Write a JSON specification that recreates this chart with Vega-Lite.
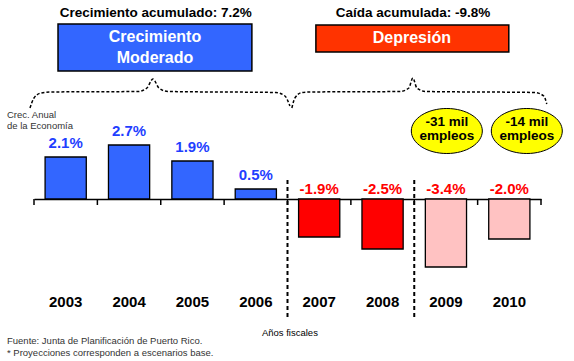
{
  "$schema": "https://vega.github.io/schema/vega-lite/v6.json",
  "width": 507,
  "height": 361,
  "autosize": {"type": "none"},
  "padding": {"left": 34, "right": 33, "top": 0, "bottom": 0},
  "background": "white",
  "config": {"view": {"stroke": null}, "font": "Liberation Sans"},
  "datasets": {
    "bars": [
      {"year": "2003", "value": 2.1, "label": "2.1%", "kind": "Real"},
      {"year": "2004", "value": 2.7, "label": "2.7%", "kind": "Real"},
      {"year": "2005", "value": 1.9, "label": "1.9%", "kind": "Real"},
      {"year": "2006", "value": 0.5, "label": "0.5%", "kind": "Real"},
      {"year": "2007", "value": -1.9, "label": "-1.9%", "kind": "Caída"},
      {"year": "2008", "value": -2.5, "label": "-2.5%", "kind": "Caída"},
      {"year": "2009", "value": -3.4, "label": "-3.4%", "kind": "Proyección"},
      {"year": "2010", "value": -2.0, "label": "-2.0%", "kind": "Proyección"}
    ],
    "ticks": [
      {"b": 0}, {"b": 1}, {"b": 2}, {"b": 3}, {"b": 4}, {"b": 5}, {"b": 6}, {"b": 7}, {"b": 8}
    ],
    "headers": [
      {"text": "Crecimiento acumulado: 7.2%", "x": 1.92, "y": 9.3},
      {"text": "Caída acumulada: -9.8%", "x": 5.98, "y": 9.3}
    ],
    "boxes": [
      {"box": "Crecimiento", "x": 0.379, "x2": 3.438, "y": 8.75, "y2": 6.4},
      {"box": "Depresión", "x": 4.448, "x2": 7.492, "y": 8.7, "y2": 7.35}
    ],
    "boxtext": [
      {"text": "Crecimiento", "x": 1.909, "y": 8.1},
      {"text": "Moderado", "x": 1.909, "y": 7.05},
      {"text": "Depresión", "x": 5.962, "y": 8.05}
    ],
    "braces": [
      {"brace": "L", "x": -0.063, "y": 4.55},
      {"brace": "L", "x": 0.0, "y": 5.05},
      {"brace": "L", "x": 0.11, "y": 5.3},
      {"brace": "L", "x": 0.252, "y": 5.35},
      {"brace": "L", "x": 1.64, "y": 5.375},
      {"brace": "L", "x": 1.782, "y": 5.55},
      {"brace": "L", "x": 1.877, "y": 6.0},
      {"brace": "L", "x": 1.972, "y": 5.55},
      {"brace": "L", "x": 2.114, "y": 5.375},
      {"brace": "L", "x": 3.817, "y": 5.325},
      {"brace": "L", "x": 3.959, "y": 5.15},
      {"brace": "L", "x": 4.038, "y": 4.65},
      {"brace": "R", "x": 4.069, "y": 4.55},
      {"brace": "R", "x": 4.117, "y": 5.05},
      {"brace": "R", "x": 4.227, "y": 5.325},
      {"brace": "R", "x": 4.353, "y": 5.35},
      {"brace": "R", "x": 5.773, "y": 5.375},
      {"brace": "R", "x": 5.915, "y": 5.55},
      {"brace": "R", "x": 5.978, "y": 6.05},
      {"brace": "R", "x": 6.041, "y": 5.55},
      {"brace": "R", "x": 6.183, "y": 5.375},
      {"brace": "R", "x": 7.902, "y": 5.325},
      {"brace": "R", "x": 8.044, "y": 5.15},
      {"brace": "R", "x": 8.091, "y": 4.75}
    ],
    "dividers": [
      {"x": 4, "y": 0.95, "y2": -5.95},
      {"x": 6, "y": 0.95, "y2": -5.95}
    ],
    "ellipses": [
      {"x": 6.514, "y": 3.4, "text": "-31 mil\nempleos"},
      {"x": 7.776, "y": 3.4, "text": "-14 mil\nempleos"}
    ],
    "notes": [
      {"text": "Crec. Anual", "x": -0.426, "y": 4.2},
      {"text": "de la Economía", "x": -0.426, "y": 3.65},
      {"text": "Fuente: Junta de Planificación de Puerto Rico.", "x": -0.426, "y": -7.1},
      {"text": "* Proyecciones corresponden a escenarios base.", "x": -0.426, "y": -7.7}
    ],
    "xtitle": [
      {"text": "Años fiscales", "x": 4.038, "y": -6.7}
    ]
  },
  "resolve": {"scale": {"x": "independent"}},
  "layer": [
    {
      "data": {"name": "bars"},
      "mark": {"type": "bar", "stroke": "black", "strokeWidth": 1.3},
      "encoding": {
        "x": {
          "field": "year", "type": "ordinal",
          "scale": {"domain": ["2003","2004","2005","2006","2007","2008","2009","2010"], "paddingInner": 0.35, "paddingOuter": 0.175},
          "axis": {
            "orient": "bottom", "offset": -162, "title": null,
            "domain": true, "domainColor": "black", "domainWidth": 1.5,
            "ticks": false,
            "labelPadding": 95, "labelFont": "Liberation Sans", "labelFontWeight": "bold",
            "labelFontSize": 15, "labelColor": "black", "labelAngle": 0, "grid": false
          }
        },
        "y": {
          "field": "value", "type": "quantitative",
          "scale": {"domain": [-8.1, 9.95], "nice": false, "zero": false},
          "axis": null
        },
        "fill": {
          "field": "kind", "type": "nominal",
          "scale": {"domain": ["Real", "Caída", "Proyección"], "range": ["#3366FF", "#FF0000", "#FFC2C2"]},
          "legend": null
        }
      }
    },
    {
      "data": {"name": "ticks"},
      "mark": {"type": "rule", "color": "black", "strokeWidth": 1.5},
      "encoding": {
        "x": {"field": "b", "type": "quantitative", "scale": {"domain": [0, 8], "nice": false, "zero": false}, "axis": null},
        "y": {"datum": 0, "type": "quantitative"},
        "y2": {"datum": -0.3}
      }
    },
    {
      "data": {"name": "bars"},
      "transform": [{"filter": "datum.value > 0"}],
      "mark": {"type": "text", "dy": -9, "baseline": "alphabetic", "fontSize": 15, "fontWeight": "bold", "color": "#1F3FFF"},
      "encoding": {
        "x": {"field": "year", "type": "ordinal", "scale": {"domain": ["2003","2004","2005","2006","2007","2008","2009","2010"], "paddingInner": 0.35, "paddingOuter": 0.175}, "axis": null},
        "y": {"field": "value", "type": "quantitative"},
        "text": {"field": "label"}
      }
    },
    {
      "data": {"name": "bars"},
      "transform": [{"filter": "datum.value < 0"}],
      "mark": {"type": "text", "dy": -5, "baseline": "alphabetic", "fontSize": 15, "fontWeight": "bold", "color": "#FF0000"},
      "encoding": {
        "x": {"field": "year", "type": "ordinal", "scale": {"domain": ["2003","2004","2005","2006","2007","2008","2009","2010"], "paddingInner": 0.35, "paddingOuter": 0.175}, "axis": null},
        "y": {"datum": 0, "type": "quantitative"},
        "text": {"field": "label"}
      }
    },
    {
      "data": {"name": "dividers"},
      "mark": {"type": "rule", "color": "black", "strokeWidth": 2, "strokeDash": [4, 3]},
      "encoding": {
        "x": {"field": "x", "type": "quantitative", "scale": {"domain": [0, 8], "nice": false, "zero": false}, "axis": null},
        "y": {"field": "y", "type": "quantitative"},
        "y2": {"field": "y2"}
      }
    },
    {
      "data": {"name": "braces"},
      "mark": {"type": "line", "color": "black", "strokeWidth": 1.5, "strokeDash": [3, 2], "interpolate": "monotone"},
      "encoding": {
        "x": {"field": "x", "type": "quantitative", "scale": {"domain": [0, 8], "nice": false, "zero": false}, "axis": null},
        "y": {"field": "y", "type": "quantitative"},
        "detail": {"field": "brace"}
      }
    },
    {
      "data": {"name": "headers"},
      "mark": {"type": "text", "fontSize": 13.5, "fontWeight": "bold", "color": "black", "baseline": "middle"},
      "encoding": {
        "x": {"field": "x", "type": "quantitative", "scale": {"domain": [0, 8], "nice": false, "zero": false}, "axis": null},
        "y": {"field": "y", "type": "quantitative"},
        "text": {"field": "text"}
      }
    },
    {
      "data": {"name": "boxes"},
      "mark": {"type": "rect", "stroke": "black", "strokeWidth": 1.5},
      "encoding": {
        "x": {"field": "x", "type": "quantitative", "scale": {"domain": [0, 8], "nice": false, "zero": false}, "axis": null},
        "x2": {"field": "x2"},
        "y": {"field": "y", "type": "quantitative"},
        "y2": {"field": "y2"},
        "color": {
          "field": "box", "type": "nominal",
          "scale": {"domain": ["Crecimiento", "Depresión"], "range": ["#3366FF", "#FF3300"]},
          "legend": null
        }
      }
    },
    {
      "data": {"name": "boxtext"},
      "mark": {"type": "text", "fontSize": 16, "fontWeight": "bold", "color": "white", "baseline": "middle"},
      "encoding": {
        "x": {"field": "x", "type": "quantitative", "scale": {"domain": [0, 8], "nice": false, "zero": false}, "axis": null},
        "y": {"field": "y", "type": "quantitative"},
        "text": {"field": "text"}
      }
    },
    {
      "data": {"name": "ellipses"},
      "mark": {
        "type": "point", "filled": true, "fill": "#FFFF00", "fillOpacity": 1, "opacity": 1,
        "stroke": "black", "strokeWidth": 1, "size": 5041,
        "shape": "M-1,0A1,0.634,0,1,1,1,0A1,0.634,0,1,1,-1,0Z"
      },
      "encoding": {
        "x": {"field": "x", "type": "quantitative", "scale": {"domain": [0, 8], "nice": false, "zero": false}, "axis": null},
        "y": {"field": "y", "type": "quantitative"}
      }
    },
    {
      "data": {"name": "ellipses"},
      "mark": {"type": "text", "fontSize": 13.5, "fontWeight": "bold", "color": "black", "baseline": "middle", "lineBreak": "\n", "lineHeight": 14, "dy": -9},
      "encoding": {
        "x": {"field": "x", "type": "quantitative", "scale": {"domain": [0, 8], "nice": false, "zero": false}, "axis": null},
        "y": {"field": "y", "type": "quantitative"},
        "text": {"field": "text"}
      }
    },
    {
      "data": {"name": "notes"},
      "mark": {"type": "text", "fontSize": 9.5, "align": "left", "baseline": "middle", "color": "#333333"},
      "encoding": {
        "x": {"field": "x", "type": "quantitative", "scale": {"domain": [0, 8], "nice": false, "zero": false}, "axis": null},
        "y": {"field": "y", "type": "quantitative"},
        "text": {"field": "text"}
      }
    },
    {
      "data": {"name": "xtitle"},
      "mark": {"type": "text", "fontSize": 9.5, "baseline": "middle", "color": "black"},
      "encoding": {
        "x": {"field": "x", "type": "quantitative", "scale": {"domain": [0, 8], "nice": false, "zero": false}, "axis": null},
        "y": {"field": "y", "type": "quantitative"},
        "text": {"field": "text"}
      }
    }
  ]
}
